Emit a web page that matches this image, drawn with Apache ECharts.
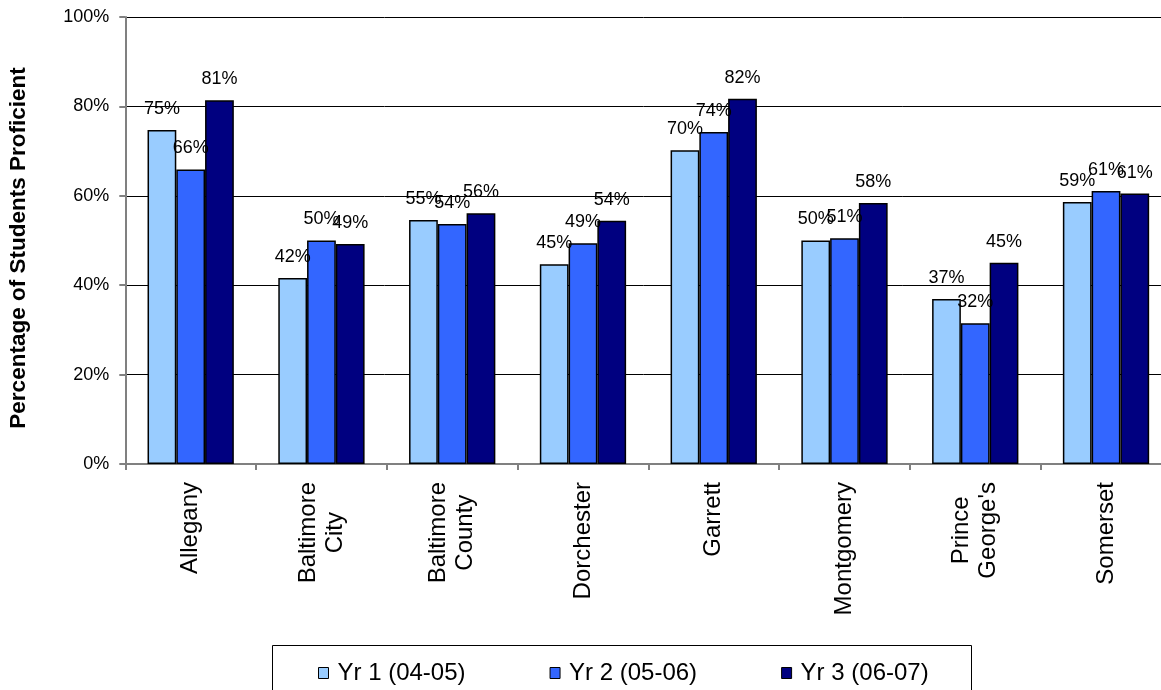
<!DOCTYPE html>
<html>
<head>
<meta charset="utf-8">
<script src="https://cdn.jsdelivr.net/npm/echarts@6/dist/echarts.min.js"></script>
<style>
  html, body { margin: 0; padding: 0; background: #fff; overflow: hidden; }
  #chart { width: 1161px; height: 690px; }
</style>
</head>
<body>
<div id="chart"></div>
<script>
// Counties (multi-line names break with \n)
const counties = [
  'Allegany', 'Baltimore\nCity', 'Baltimore\nCounty', 'Dorchester',
  'Garrett', 'Montgomery', 'Prince\nGeorge\'s', 'Somerset'
];

// Percentage of students proficient, per school year
const yr1 = [74.7, 41.6, 54.6, 44.7, 70.2, 50.0, 36.9, 58.6];
const yr2 = [65.9, 50.0, 53.7, 49.4, 74.3, 50.5, 31.5, 61.1];
const yr3 = [81.4, 49.2, 56.1, 54.4, 81.7, 58.4, 45.0, 60.5];

const seriesNames = ['Yr 1 (04-05)', 'Yr 2 (05-06)', 'Yr 3 (06-07)'];
const seriesColors = ['#99CCFF', '#3366FF', '#000080'];

const yTicks = { min: 0, max: 100, interval: 20 };
const yTitle = 'Percentage of Students Proficient';

const font = 'Liberation Sans, Arial, sans-serif';

function barSeries(name, data, color) {
  return {
    name: name,
    type: 'bar',
    data: data,
    barGap: '0%',
    barCategoryGap: '34%',
    itemStyle: { color: color, borderColor: '#000', borderWidth: 1.5 },
    label: {
      show: true,
      position: 'top',
      distance: 12,
      fontFamily: font,
      fontSize: 18,
      color: '#000',
      formatter: p => Math.round(p.value) + '%'
    },
    emphasis: { disabled: true }
  };
}

const chart = echarts.init(document.getElementById('chart'), null, { renderer: 'canvas' });

chart.setOption({
  animation: false,
  backgroundColor: '#fff',
  grid: { left: 125.3, top: 17, right: -10.4, bottom: 226, containLabel: false, outerBoundsMode: 'none' },
  legend: {
    left: 313,
    top: 656,
    itemWidth: 10,
    itemHeight: 11,
    itemGap: 84,
    icon: 'rect',
    textStyle: { fontFamily: font, fontSize: 24, color: '#000', padding: [0, 0, 0, 4] },
    itemStyle: { borderColor: '#000', borderWidth: 1 },
    data: seriesNames
  },
  graphic: [
    {
      type: 'rect',
      shape: { x: 272.5, y: 645.5, width: 699, height: 60 },
      style: { fill: 'none', stroke: '#000', lineWidth: 1 },
      z: -1
    },
    {
      type: 'text',
      x: 19,
      y: 248,
      rotation: Math.PI / 2,
      style: {
        text: yTitle,
        fontFamily: font,
        fontSize: 22.5,
        fontWeight: 'bold',
        fill: '#000',
        align: 'center',
        verticalAlign: 'middle'
      }
    }
  ],
  xAxis: {
    type: 'category',
    data: counties,
    axisLine: { lineStyle: { color: '#808080', width: 2 } },
    axisTick: { show: true, length: 6, lineStyle: { color: '#808080', width: 2 } },
    axisLabel: {
      rotate: 90,
      margin: 18,
      interval: 0,
      color: '#000',
      fontFamily: font,
      fontSize: 24,
      formatter: v => v.split('\n').map(s => '{c|' + s + '}').join('\n'),
      rich: { c: { align: 'center', fontFamily: font, fontSize: 24, lineHeight: 27, color: '#000' } }
    }
  },
  yAxis: {
    type: 'value',
    min: yTicks.min,
    max: yTicks.max,
    interval: yTicks.interval,
    axisLine: { show: true, lineStyle: { color: '#808080', width: 2 } },
    axisTick: { show: true, length: 6, lineStyle: { color: '#808080', width: 2 } },
    axisLabel: { margin: 16, color: '#000', fontFamily: font, fontSize: 18, formatter: '{value}%' },
    splitLine: { show: true, lineStyle: { color: '#000', width: 1 } }
  },
  series: [
    barSeries(seriesNames[0], yr1, seriesColors[0]),
    barSeries(seriesNames[1], yr2, seriesColors[1]),
    barSeries(seriesNames[2], yr3, seriesColors[2])
  ]
});
</script>
</body>
</html>
